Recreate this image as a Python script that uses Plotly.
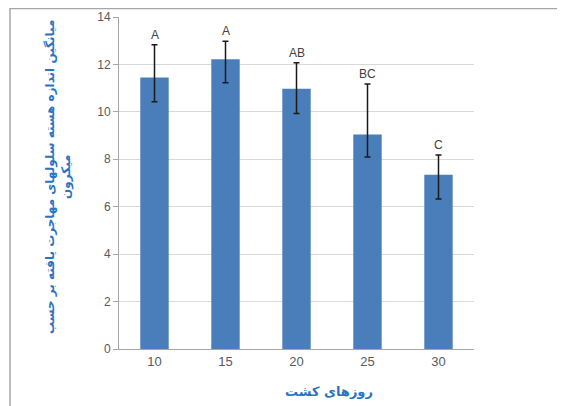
import plotly.graph_objects as go

days = ["10", "15", "20", "25", "30"]
means = [11.45, 12.22, 10.97, 9.05, 7.35]
err_plus = [1.38, 0.76, 1.10, 2.12, 0.83]
err_minus = [1.02, 0.99, 1.04, 0.95, 1.02]
letters = ["A", "A", "AB", "BC", "C"]

y_title = "<b>میانگین اندازه هسته سلولهای مهاجرت یافته بر حسب<br>میکرون</b>"
x_title = "<b>روزهای کشت</b>"

blue_bar = "#4A7EBB"
title_blue = "#2874C3"
tick_color = "#595959"

fig = go.Figure()
fig.add_trace(go.Bar(
    x=days, y=means,
    marker=dict(color=blue_bar, line=dict(width=0)),
    error_y=dict(type="data", symmetric=False, array=err_plus, arrayminus=err_minus,
                 color="#1a1a1a", thickness=1.5, width=3),
))

for i, (m, e, t) in enumerate(zip(means, err_plus, letters)):
    fig.add_annotation(x=i, y=m + e, text=t, showarrow=False, yanchor="bottom",
                       yshift=1, font=dict(family="Liberation Sans", size=12, color="#404040"))

# axis titles
fig.add_annotation(xref="paper", yref="paper", x=-0.172, y=0.518, text=y_title,
                   textangle=-90, showarrow=False, xanchor="center", yanchor="middle",
                   font=dict(family="DejaVu Sans", size=12, color=title_blue))
fig.add_annotation(xref="paper", yref="paper", x=0.5915, y=-0.1295, text=x_title,
                   showarrow=False, xanchor="center", yanchor="middle",
                   font=dict(family="DejaVu Sans", size=13, color=title_blue))

fig.add_shape(type="rect", xref="paper", yref="paper",
              x0=-0.307, x1=1.2535, y0=-0.2, y1=1.0256,
              line=dict(color="#A6A6A6", width=1.5), layer="below")

fig.update_layout(
    width=565, height=406,
    margin=dict(l=111, r=99, t=9, b=65),
    bargap=0.6,
    paper_bgcolor="white", plot_bgcolor="white",
    showlegend=False,
    font=dict(family="Liberation Sans", size=12, color=tick_color),
    xaxis=dict(
        type="category", automargin=False,
        showline=True, linecolor="#A6A6A6", linewidth=1,
        ticks="", tickfont=dict(size=13, color=tick_color),
    ),
    yaxis=dict(
        range=[0, 14], dtick=2, automargin=False,
        showgrid=True, gridcolor="#D9D9D9", gridwidth=1,
        showline=True, linecolor="#A6A6A6", linewidth=1,
        ticks="outside", ticklen=5, tickcolor="#A6A6A6",
        tickfont=dict(size=12, color=tick_color),
        zeroline=False,
    ),
)

fig.write_html("out.html")
